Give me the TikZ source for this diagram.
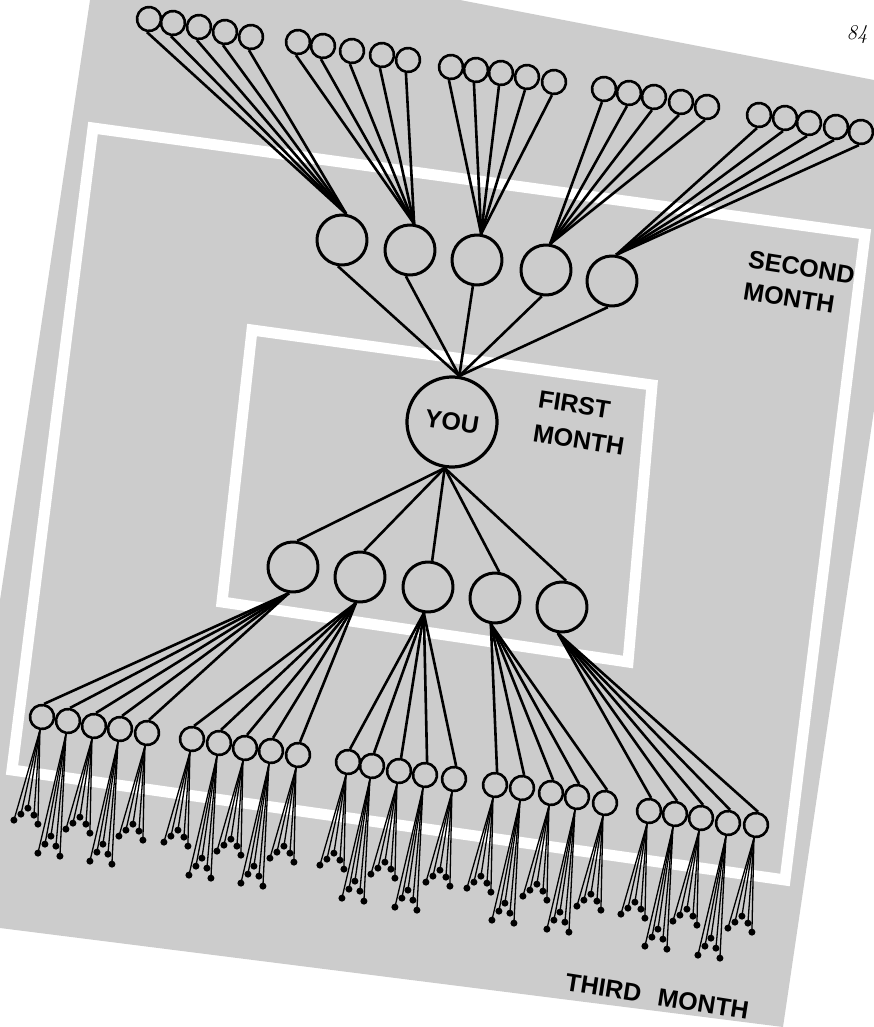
\documentclass[tikz,border=0pt]{standalone}
\usepackage{fontspec}
\newfontfamily\hv{Liberation Sans}
\begin{document}
\begin{tikzpicture}[x=1pt,y=-1pt,
  bigc/.style={circle,draw,line width=3pt,minimum size=50pt,inner sep=0pt,rotate=-9},
  youc/.style={circle,draw,line width=3.2pt,minimum size=90pt,inner sep=0pt,rotate=-9},
  smc/.style={circle,draw,line width=2.6pt,minimum size=24pt,inner sep=0pt,rotate=-9},
  dotc/.style={circle,fill,inner sep=0pt,minimum size=7pt},
  link/.style={line width=2.6pt},
  dotlink/.style={line width=1.3pt},
  band/.style={draw=white,line width=11pt,line join=miter},
  lbl/.style={font=\hv\bfseries\fontsize{25}{34}\selectfont,rotate=-9,align=left,inner sep=0pt,anchor=north west}
]
\useasboundingbox (0,0) rectangle (874,1027);
% stippled page
\fill[black!20] (90,0) -- (460,0) -- (874,80) -- (874,410) -- (783,1027) -- (0,928) -- (0,600) -- cycle;
% month frames
\draw[band] (93,128) -- (865,234) -- (785,880) -- (12,770) -- cycle;
\draw[band] (252,330) -- (652,385) -- (628,662) -- (222,602) -- cycle;

% centre
\node[youc] (you) at (452,422) {\hv\bfseries\fontsize{25}{25}\selectfont YOU};

% upper big circles
\foreach \n/\x/\y in {1/342/240,2/410/250,3/477/260,4/546/270,5/612/281}{
  \node[bigc] (s\n) at (\x,\y) {};
  \draw[link] (s\n.south) -- (you.north);
}
% upper small circles
\foreach \g/\k/\x/\y in {
  1/1/149/19,1/2/173/23,1/3/199/27,1/4/225/32,1/5/251/37,
  2/1/298/42,2/2/323/46,2/3/352/51,2/4/382/55,2/5/408/60,
  3/1/451/67,3/2/476/70,3/3/501/73,3/4/527/77,3/5/554/82,
  4/1/604/89,4/2/629/93,4/3/654/97,4/4/681/102,4/5/707/107,
  5/1/759/115,5/2/785/118,5/3/809/123,5/4/836/127,5/5/861/132}{
  \node[smc] (u\g-\k) at (\x,\y) {};
  \draw[link] (u\g-\k.south) -- (s\g.north);
}

% lower big circles
\foreach \n/\x/\y in {1/293/567,2/360/577,3/428/587,4/495/598,5/562/607}{
  \node[bigc] (l\n) at (\x,\y) {};
  \draw[link] (you.south) -- (l\n.north);
}

\def\shortset{-26/90,-19/84,-12/78,-6/85,-2/94}
\def\longset{-28/119,-21/110,-15/102,-10/112,-6/122}

% lower small circles with their dots
\foreach \g/\k/\x/\y in {
  1/1/42/717,1/2/68/721,1/3/94/726,1/4/120/729,1/5/147/733,
  2/1/192/739,2/2/219/743,2/3/245/748,2/4/271/751,2/5/298/755,
  3/1/348/762,3/2/372/766,3/3/399/771,3/4/425/775,3/5/454/779,
  4/1/495/785,4/2/522/788,4/3/551/793,4/4/577/797,4/5/605/803,
  5/1/649/811,5/2/675/814,5/3/701/818,5/4/728/823,5/5/756/825}{
  \node[smc] (c\g-\k) at (\x,\y) {};
  \draw[link] (l\g.south) -- (c\g-\k.north);
  \ifodd\k\relax\let\ds\shortset\else\let\ds\longset\fi
  \foreach \dx/\dy [count=\j] in \ds {
    \draw[dotlink] (c\g-\k.south) -- ++(\dx,\dy) node[dotc] (d\g-\k-\j) {};
  }
}

% labels
\node[lbl] (first) at (540,390) {FIRST\\MONTH};
\node[lbl,font=\hv\bfseries\fontsize{25}{32}\selectfont] (second) at (750,250) {SECOND\\MONTH};
\node[lbl] (third) at (567,973) {THIRD\hspace{17pt}MONTH};
\node[inner sep=0pt] (page) at (857,35) {\itshape\fontsize{21}{21}\selectfont 84};
\end{tikzpicture}
\end{document}
